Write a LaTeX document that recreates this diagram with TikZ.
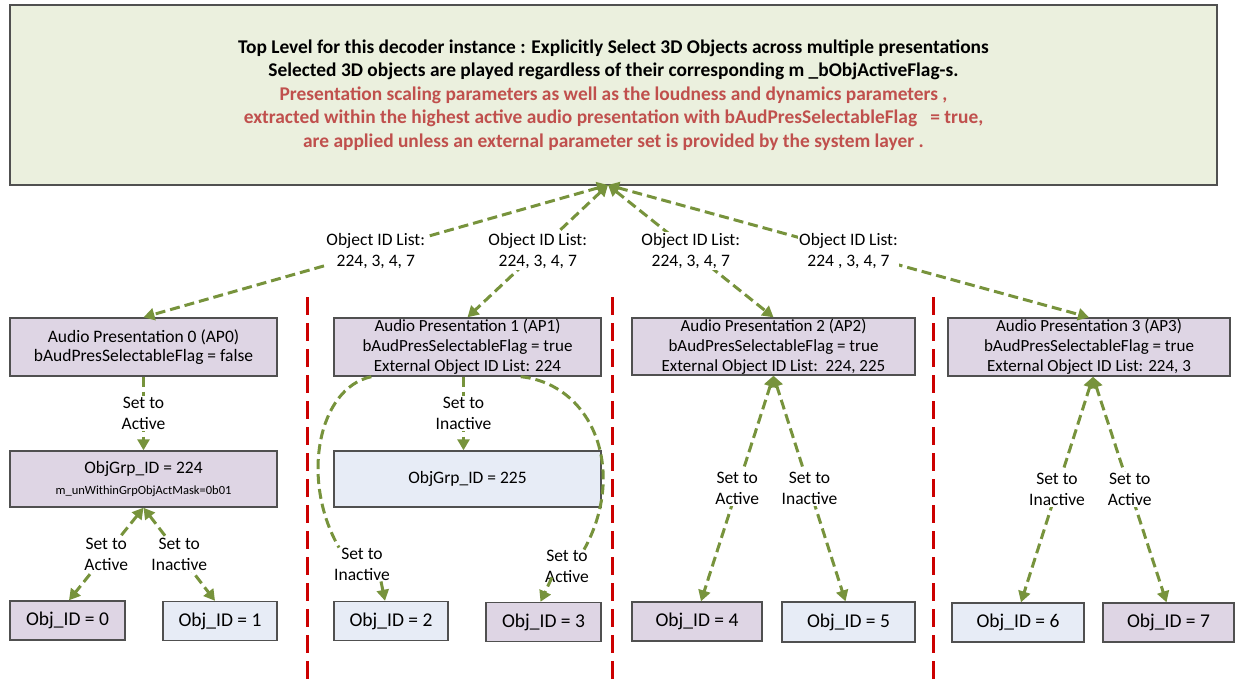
\documentclass[tikz,border=0pt]{standalone}
\usepackage{fontspec}
\setmainfont{Carlito}
\usetikzlibrary{arrows.meta,calc}
\definecolor{topfill}{HTML}{EBF0DE}
\definecolor{lav}{HTML}{DED5E4}
\definecolor{lblue}{HTML}{E7ECF6}
\definecolor{gline}{HTML}{77933C}
\definecolor{rtext}{HTML}{C0504D}
\definecolor{rdash}{HTML}{CC0000}
\definecolor{bord}{HTML}{505050}
\begin{document}
\begin{tikzpicture}[x=1pt,y=-1pt,
  box/.style={draw=bord,line width=1.4pt,inner sep=0pt,align=center,font=\fontsize{17.5}{19}\selectfont},
  lavbox/.style={box,fill=lav},
  bluebox/.style={box,fill=lblue},
  conn/.style={draw=gline,line width=3pt,dash pattern=on 10pt off 5pt,
     arrows={-{Triangle[length=11pt,width=12pt]}}},
  bconn/.style={conn,arrows={{Triangle[length=11pt,width=12pt]}-{Triangle[length=11pt,width=12pt]}}},
  pconn/.style={draw=gline,line width=3pt,dash pattern=on 10pt off 5pt},
  lbl/.style={fill=white,inner sep=1pt,align=center,font=\fontsize{17.5}{21}\selectfont},
  reddash/.style={draw=rdash,line width=3pt,dash pattern=on 18pt off 8pt},
  objf/.style={font=\fontsize{19.5}{21}\selectfont}
]
\useasboundingbox (0,0) rectangle (1235,681);

% top box
\node[box,fill=topfill,minimum width=1207pt,minimum height=180pt,
      font=\fontsize{19.4}{23.5}\selectfont\bfseries] (top) at (613.5,95)
 {Top Level for this decoder instance : Explicitly Select 3D Objects across multiple presentations\\
  Selected 3D objects are played regardless of their corresponding m \_bObjActiveFlag-s.\\
  \textcolor{rtext}{Presentation scaling parameters as well as the loudness and dynamics parameters ,}\\
  \textcolor{rtext}{extracted within the highest active audio presentation with bAudPresSelectableFlag \ \ = true,}\\
  \textcolor{rtext}{are applied unless an external parameter set is provided by the system layer .}};
\coordinate (apex) at (608,185);

% audio presentations
\node[lavbox,minimum width=267pt,minimum height=58pt] (ap0) at (143.5,347)
 {Audio Presentation 0 (AP0)\\bAudPresSelectableFlag = false};
\node[lavbox,minimum width=267pt,minimum height=58pt,font=\fontsize{17}{20}\selectfont] (ap1) at (467.5,347)
 {Audio Presentation 1 (AP1)\\bAudPresSelectableFlag = true\\External Object ID List: 224};
\node[lavbox,minimum width=283pt,minimum height=57pt,font=\fontsize{17}{20}\selectfont] (ap2) at (773.5,346.5)
 {Audio Presentation 2 (AP2)\\bAudPresSelectableFlag = true\\External Object ID List:\ \ 224, 225};
\node[lavbox,minimum width=282pt,minimum height=58pt,font=\fontsize{17}{20}\selectfont] (ap3) at (1089,347)
 {Audio Presentation 3 (AP3)\\bAudPresSelectableFlag = true\\External Object ID List: 224, 3};

% groups
\node[lavbox,minimum width=267pt,minimum height=56pt,font=\fontsize{17.5}{21}\selectfont] (g224) at (143.5,479)
 {ObjGrp\_ID = 224\\{\fontsize{12.5}{14}\selectfont m\_unWithinGrpObjActMask=0b01}};
\node[bluebox,minimum width=267pt,minimum height=56pt,font=\fontsize{17.5}{21}\selectfont] (g225) at (467.5,479) {ObjGrp\_ID = 225};

% objects
\node[lavbox,objf,minimum width=115pt,minimum height=39pt] (o0) at (67.5,620.5) {Obj\_ID = 0};
\node[bluebox,objf,minimum width=114pt,minimum height=39pt] (o1) at (220,621) {Obj\_ID = 1};
\node[bluebox,objf,minimum width=114pt,minimum height=39pt] (o2) at (391,621) {Obj\_ID = 2};
\node[lavbox,objf,minimum width=115pt,minimum height=39pt] (o3) at (543.5,622) {Obj\_ID = 3};
\node[lavbox,objf,minimum width=130pt,minimum height=39pt] (o4) at (697,621.5) {Obj\_ID = 4};
\node[bluebox,objf,minimum width=133pt,minimum height=40pt] (o5) at (848.5,622) {Obj\_ID = 5};
\node[bluebox,objf,minimum width=132pt,minimum height=39pt] (o6) at (1018,622.5) {Obj\_ID = 6};
\node[lavbox,objf,minimum width=131pt,minimum height=39pt] (o7) at (1168.5,622.5) {Obj\_ID = 7};

% red separators
\draw[reddash] (307,297) -- (307,681);
\draw[reddash] (612,297) -- (612,681);
\draw[reddash] (933,297) -- (933,681);

% top connectors
\draw[bconn] (apex) -- node[lbl]{Object ID List:\\224, 3, 4, 7} (ap0.north);
\draw[bconn] (apex) -- node[lbl]{Object ID List:\\224, 3, 4, 7} (ap1.north);
\draw[bconn] (apex) -- node[lbl]{Object ID List:\\224, 3, 4, 7} (ap2.north);
\draw[bconn] (apex) -- node[lbl]{Object ID List:\\224 , 3, 4, 7} (ap3.north);

% AP0
\draw[conn] (ap0.south) -- node[lbl]{Set to\\Active} (g224.north);
\draw[bconn] (g224.south) -- node[lbl]{Set to\\Active} ($(o0.north)+(1.5,0)$);
\draw[bconn] (g224.south) -- node[lbl]{Set to\\Inactive} ($(o1.north)+(-5,0)$);

% AP1
\draw[conn] ($(ap1.south)+(-4,0)$) -- node[lbl]{Set to\\Inactive} ($(g225.north)+(-4,0)$);
\node[lbl] (l2) at (362,564) {Set to\\Inactive};
\node[lbl] (l3) at (567,566) {Set to\\Active};
\draw[pconn] ($(ap1.south west)+(38,0)$) .. controls (318,388) and (300,480) .. ($(l2.north west)+(6,1)$);
\draw[conn] ($(l2.south)+(19,0)$) -- ($(o2.north)+(-6,0)$);
\draw[pconn] ($(ap1.south east)+(-81,0)$) .. controls (592,384) and (628,470) .. ($(l3.north east)+(-6,1)$);
\draw[conn] ($(l3.south west)+(8,-6)$) -- ($(o3.north)+(-3,0)$);

% AP2
\draw[bconn] (ap2.south) -- node[lbl]{Set to\\Active} ($(o4.north)+(4,0)$);
\draw[bconn] (ap2.south) -- node[lbl]{Set to\\Inactive} ($(o5.north)+(-3,0)$);

% AP3
\draw[bconn] ($(ap3.south)+(4,0)$) -- node[lbl]{Set to\\Inactive} ($(o6.north)+(3,0)$);
\draw[bconn] ($(ap3.south)+(4,0)$) -- node[lbl]{Set to\\Active} ($(o7.north)+(-2,0)$);
\end{tikzpicture}
\end{document}
